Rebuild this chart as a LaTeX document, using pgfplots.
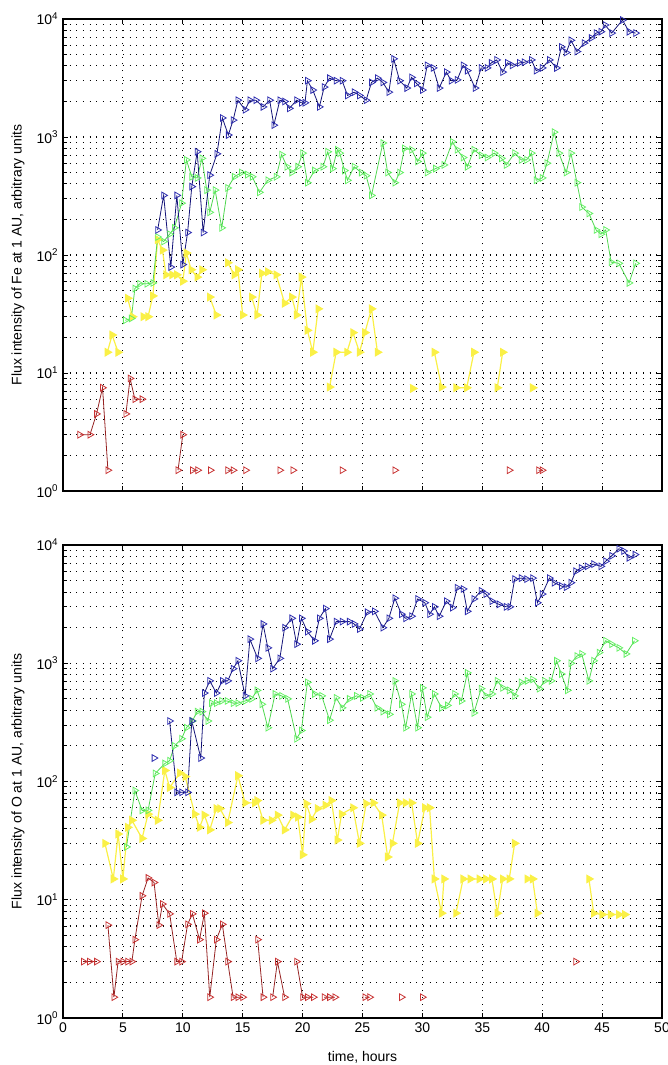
\documentclass[border=0pt]{standalone}
\usepackage{fontspec}
\setmainfont{Liberation Sans}
\usepackage{pgfplots}
\pgfplotsset{compat=1.18}

\definecolor{cblue}{RGB}{20,20,120}
\definecolor{cbluem}{RGB}{45,45,175}
\definecolor{cgreen}{RGB}{100,240,100}
\definecolor{cgreenl}{RGB}{80,215,80}
\definecolor{cyellow}{RGB}{250,240,70}
\definecolor{cred}{RGB}{150,35,35}
\definecolor{credm}{RGB}{200,50,50}

\pgfplotsset{
  sblue/.style={color=cblue, line width=0.6pt, mark=triangle, mark size=2.9pt, mark options={rotate=-90, solid, draw=cbluem, fill=none}},
  sgreen/.style={color=cgreenl, line width=0.6pt, mark=triangle, mark size=2.9pt, mark options={rotate=-90, solid, draw=cgreen, fill=none}},
  syellow/.style={color=cyellow, line width=0.9pt, mark=triangle*, mark size=3.1pt, mark options={rotate=-90, solid, draw=cyellow, fill=cyellow}},
  sred/.style={color=cred, line width=0.6pt, mark=triangle, mark size=2.9pt, mark options={rotate=-90, solid, draw=credm, fill=none}},
}

\begin{document}
\begin{tikzpicture}
\path[use as bounding box] (0,0) rectangle (501pt,-798.75pt);

% ---------------- Fe ----------------
\begin{axis}[at={(47.25pt,-368.25pt)}, anchor=south west,
    scale only axis, width=449.25pt, height=354pt,
    xmin=0, xmax=50, ymode=log, ymin=1, ymax=10000,
    xtick={0,5,...,50},
    ytick={1,10,100,1000,10000},
    yticklabels={10\textsuperscript{0},10\textsuperscript{1},10\textsuperscript{2},10\textsuperscript{3},10\textsuperscript{4}},
    minor ytick={2,3,...,9,20,30,...,90,200,300,...,900,2000,3000,...,9000},
    grid=both,
    major grid style={black, line width=0.8pt, dash pattern=on 0.8pt off 4.2pt},
    minor grid style={black, line width=0.8pt, dash pattern=on 0.8pt off 4.2pt},
    axis line style={line width=0.8pt},
    tick style={black, line width=0.7pt},
    major tick length=4pt, minor tick length=3pt,
    tick label style={font=\fontsize{10.5}{12}\selectfont},
    label style={font=\fontsize{10.5}{12}\selectfont},
    ylabel style={at={(axis description cs:-0.075,0.5)}, anchor=center},
    unbounded coords=jump,
    xticklabels={}, ylabel={Flux intensity of Fe at 1 AU, arbitrary units}]
\addplot[syellow] coordinates {
(3.7,15) (4.1,21) (4.6,15) (nan,nan) (5.4,43) (5.8,30) (nan,nan) (6.7,30) (7.1,30) (7.5,45) (7.9,135)
(8.3,110) (8.6,68) (9.1,68) (9.5,68) (10.0,60) (10.3,104) (10.7,75) (11.2,65) (11.6,75) (nan,nan)
(12.25,44) (12.8,31) (nan,nan) (13.75,86) (14.3,68) (14.6,75) (15.0,31) (nan,nan) (15.75,44) (16.2,31)
(16.6,70) (17.1,72) (17.8,68) (18.5,39) (19.1,44) (19.5,31) (19.9,65) (20.4,23) (20.85,15) (21.3,35)
(nan,nan) (22.25,7.6) (22.8,15) (23.7,15) (24.2,22) (24.75,15) (25.2,22) (25.75,35) (26.25,15)
(nan,nan) (29.2,7.4) (nan,nan) (31.0,15) (31.6,7.6) (nan,nan) (32.8,7.5) (33.7,7.5) (34.3,15)
(nan,nan) (36.25,7.5) (36.7,15) (nan,nan) (39.2,7.5)
};
\addplot[sred] coordinates {
(1.4,3) (2.25,3) (2.8,4.5) (3.3,7.5) (3.75,1.5) (nan,nan) (5.25,4.5) (5.6,9) (6.0,6) (6.6,6) (nan,nan)
(9.6,1.5) (10.0,3) (nan,nan) (10.8,1.5) (11.25,1.5) (nan,nan) (12.3,1.5) (nan,nan) (13.75,1.5) (14.2,1.5)
(nan,nan) (15.25,1.5) (nan,nan) (18.1,1.5) (nan,nan) (19.2,1.5) (nan,nan) (23.3,1.5) (nan,nan)
(27.7,1.5) (nan,nan) (37.25,1.5) (nan,nan) (39.7,1.5) (40.0,1.5)
};
\addplot[sgreen] coordinates {
(5.2,28) (5.7,29) (6.0,52) (6.4,57) (7.0,57) (7.5,58) (7.9,142) (8.4,130) (8.9,150) (9.3,170) (9.9,275)
(10.3,640) (10.75,460) (11.2,450) (11.6,660) (12.0,355) (12.25,230) (12.7,355) (13.25,170) (13.75,370)
(14.3,460) (14.9,500) (15.4,480) (15.8,460) (16.4,340) (17.1,430) (17.8,460) (18.25,710) (18.7,560)
(19.1,500) (19.6,560) (20.0,730) (20.4,410) (21.0,520) (21.7,560) (22.1,750) (22.5,540) (22.9,780)
(23.1,730) (23.5,520) (23.75,430) (24.3,560) (24.9,500) (25.3,470) (25.75,320) (26.7,890) (27.1,500)
(27.7,410) (28.1,500) (28.5,800) (29.1,780) (29.6,620) (30.0,730) (30.4,500) (31.1,540) (31.8,580)
(32.5,910) (32.9,780) (33.4,670) (33.75,560) (34.3,780) (34.9,700) (35.4,670) (36.0,730) (36.6,660)
(37.0,580) (37.7,730) (38.25,640) (38.7,640) (39.1,730) (39.5,430) (40.0,450) (40.4,600) (41.0,1100)
(41.4,730) (42.0,500) (42.4,730) (42.9,410) (43.3,255) (43.9,225) (44.5,163) (44.9,150) (45.3,163)
(45.75,87) (46.4,85) (47.25,58) (47.8,85)
};
\addplot[sblue] coordinates {
(7.9,163) (8.4,320) (9.0,79) (9.5,320) (10.0,83) (10.4,155) (10.75,380) (11.2,750) (11.7,155) (12.25,475)
(12.85,720) (13.3,1450) (13.8,1040) (14.2,1390) (14.6,2050) (15.2,1700) (15.6,2050) (16.1,2050)
(16.7,1800) (17.25,2050) (17.6,1260) (18.1,2050) (18.5,2000) (18.9,1750) (19.5,2050) (19.9,1950)
(20.2,1950) (20.4,3000) (20.85,2500) (21.4,1800) (21.8,2650) (22.25,3150) (22.8,3000) (23.3,3000)
(23.75,2250) (24.3,2400) (24.75,2250) (25.3,2050) (25.75,2900) (26.25,3150) (26.7,2900) (27.2,2400)
(27.6,4600) (28.1,3000) (28.7,2600) (29.1,3200) (29.5,2850) (30.0,2500) (30.4,4050) (30.9,3850)
(31.4,2600) (32.0,3550) (32.4,3000) (32.9,3050) (33.4,4050) (33.75,3650) (34.4,2600) (34.9,3850)
(35.4,3850) (35.75,4250) (36.2,4500) (36.7,3550) (37.1,4250) (37.5,4050) (38.1,4250) (38.5,4300)
(39.1,4500) (39.5,3650) (40.0,3850) (40.6,4500) (41.2,3850) (41.6,5800) (42.0,5200) (42.4,6600)
(42.9,5300) (43.5,6250) (44.1,6900) (44.5,7600) (44.9,7800) (45.25,8900) (45.8,7600) (46.7,9800)
(47.25,7800) (47.8,7600)
};
\end{axis}

% ---------------- O ----------------
\begin{axis}[at={(47.25pt,-763.5pt)}, anchor=south west,
    scale only axis, width=449.25pt, height=354.75pt,
    xmin=0, xmax=50, ymode=log, ymin=1, ymax=10000,
    xtick={0,5,...,50},
    ytick={1,10,100,1000,10000},
    yticklabels={10\textsuperscript{0},10\textsuperscript{1},10\textsuperscript{2},10\textsuperscript{3},10\textsuperscript{4}},
    minor ytick={2,3,...,9,20,30,...,90,200,300,...,900,2000,3000,...,9000},
    grid=both,
    major grid style={black, line width=0.8pt, dash pattern=on 0.8pt off 4.2pt},
    minor grid style={black, line width=0.8pt, dash pattern=on 0.8pt off 4.2pt},
    axis line style={line width=0.8pt},
    tick style={black, line width=0.7pt},
    major tick length=4pt, minor tick length=3pt,
    tick label style={font=\fontsize{10.5}{12}\selectfont},
    label style={font=\fontsize{10.5}{12}\selectfont},
    /pgf/number format/assume math mode=true,
    ylabel style={at={(axis description cs:-0.075,0.5)}, anchor=center},
    unbounded coords=jump,
    xlabel={time, hours}, xlabel style={at={(axis description cs:0.5,-0.0825)}, anchor=center},
    ylabel={Flux intensity of O at 1 AU, arbitrary units}]
\addplot[syellow] coordinates {
(3.5,30) (4.2,15) (4.6,36) (5.0,15) (5.4,41) (5.75,47) (6.6,33) (7.1,53) (7.9,47) (8.5,124) (8.9,89)
(9.75,118) (10.2,110) (11.0,53) (11.4,41) (11.8,52) (12.25,39) (12.8,59) (13.1,59) (13.75,45)
(14.6,112) (15.2,66) (16.0,66) (16.2,69) (16.7,47) (17.4,47) (17.9,52) (18.5,39) (19.2,52) (19.6,50)
(20.0,24) (20.3,65) (20.75,48) (21.25,59) (21.9,63) (22.4,69) (22.9,32) (23.25,53) (24.2,60)
(24.75,30) (25.3,65) (25.9,66) (26.6,52) (27.1,23) (27.5,30) (28.1,66) (28.6,66) (29.1,66) (29.6,30)
(30.2,60) (30.6,60) (31.0,15) (31.6,7.7) (31.8,15) (nan,nan) (32.8,7.7) (33.4,15) (34.0,15)
(34.75,15) (35.3,15) (35.8,15) (36.25,7.7) (36.7,15) (37.25,15) (37.7,30) (nan,nan) (38.75,15)
(39.2,15) (39.6,7.7) (nan,nan) (43.9,15) (44.3,7.7) (45.0,7.5) (45.7,7.5) (46.4,7.5) (46.9,7.5)
};
\addplot[sred] coordinates {
(1.7,3) (2.2,3) (2.8,3) (nan,nan) (3.75,6.1) (4.25,1.5) (4.6,3) (5.0,3) (5.4,3) (5.75,3) (6.0,4.6)
(6.6,10.8) (7.1,15.3) (7.6,14) (8.0,6.1) (8.3,9.2) (8.9,7.6) (9.5,3) (9.9,3) (10.4,6.2) (10.8,7.6)
(11.4,4.6) (11.8,7.7) (12.25,1.5) (12.8,4.6) (13.3,6.2) (13.75,3) (14.2,1.5) (14.6,1.5) (15.0,1.5)
(nan,nan) (16.25,4.6) (16.7,1.5) (nan,nan) (17.5,1.5) (17.9,3) (18.5,1.5) (nan,nan) (19.5,3) (20.0,1.5)
(20.4,1.5) (20.9,1.5) (nan,nan) (21.8,1.5) (22.25,1.5) (22.7,1.5) (nan,nan) (25.2,1.5) (25.6,1.5)
(nan,nan) (28.25,1.5) (nan,nan) (30.0,1.5) (nan,nan) (42.8,3)
};
\addplot[sgreen] coordinates {
(5.3,28) (6.0,84) (6.6,57) (7.1,57) (7.7,117) (8.5,142) (8.9,150) (9.3,200) (9.9,230) (10.3,285)
(10.8,325) (11.2,390) (11.6,390) (12.1,325) (12.4,460) (12.8,460) (13.25,480) (13.7,480) (14.2,460)
(14.6,460) (15.2,480) (15.75,500) (16.2,590) (16.6,450) (17.1,285) (17.7,550) (18.25,530) (18.75,500)
(19.5,230) (19.9,270) (20.4,690) (21.0,550) (21.6,530) (22.25,330) (22.8,510) (23.3,420) (23.9,500)
(24.5,530) (25.0,510) (25.6,550) (26.2,420) (26.7,390) (27.25,370) (27.7,710) (28.25,450) (28.6,285)
(29.1,550) (29.6,285) (30.0,620) (30.4,350) (31.0,550) (31.6,420) (32.1,440) (32.7,550) (33.25,480)
(33.75,830) (34.3,380) (34.9,610) (35.3,530) (35.8,550) (36.25,710) (36.7,620) (37.25,590) (37.7,530)
(38.25,690) (38.75,710) (39.2,730) (39.75,610) (40.2,710) (40.75,710) (41.2,1050) (41.6,810)
(42.1,590) (42.4,1000) (42.9,1150) (43.3,1200) (43.9,710) (44.3,1050) (44.75,1230) (45.3,1550)
(45.8,1450) (46.4,1350) (47.0,1200) (47.7,1550)
};
\addplot[sblue] coordinates {
(7.6,158) (nan,nan) (8.9,325) (9.5,81) (9.9,81) (10.4,81) (10.75,325) (11.5,158) (11.8,560) (12.25,710)
(12.8,560) (13.3,710) (13.75,710) (14.2,900) (14.6,1050) (15.2,530) (15.6,1600) (16.25,1100)
(16.7,2150) (17.1,1350) (17.5,900) (18.1,1100) (18.5,2000) (19.1,2400) (19.5,1450) (19.9,2400)
(20.4,1850) (21.0,1550) (21.4,2400) (21.9,2900) (22.25,1600) (22.8,2250) (23.3,2250) (23.9,2250)
(24.3,2150) (24.75,1950) (25.4,2700) (26.0,2750) (26.7,2000) (27.2,2400) (27.7,3550) (28.25,2600)
(28.6,2400) (29.1,2500) (29.6,3500) (30.2,3250) (30.6,2600) (31.0,3000) (31.4,2500) (32.0,3350)
(32.5,2950) (32.9,4350) (33.4,4250) (33.75,2750) (34.3,3500) (34.9,4100) (35.3,3850) (35.8,3350)
(36.4,3150) (37.0,3000) (37.3,3000) (37.7,5150) (38.25,5250) (38.7,5150) (39.2,5250) (39.6,3250)
(40.0,3850) (40.6,5250) (41.0,4800) (41.6,4500) (42.0,4400) (42.4,4800) (42.8,6000) (43.25,6400)
(43.75,6600) (44.3,6900) (44.9,6600) (45.3,7300) (45.8,8100) (46.4,9300) (46.8,8900) (47.25,7800)
(47.75,8300)
};
\end{axis}
\end{tikzpicture}
\end{document}
